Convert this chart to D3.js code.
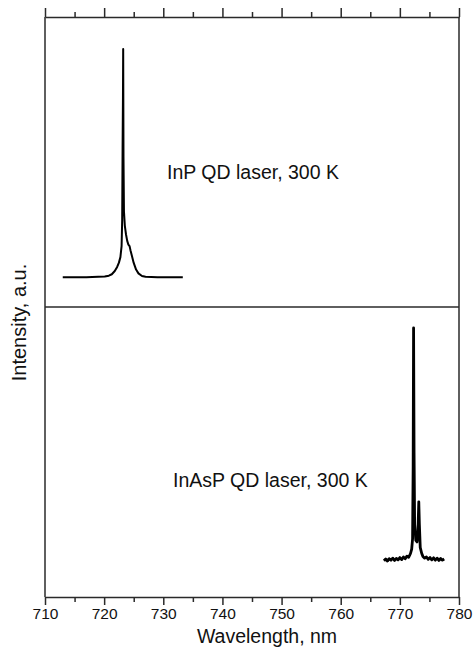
<!DOCTYPE html>
<html><head><meta charset="utf-8">
<script src="https://cdn.jsdelivr.net/npm/d3@7"></script>
<style>body{margin:0;background:#fff}svg{display:block}text{font-family:"Liberation Sans",Arial,sans-serif;fill:#111}</style>
</head><body>
<svg id="c" width="473" height="650"></svg>
<script>
const majorTicks = [710,720,730,740,750,760,770,780];
const minorTicks = [715,725,735,745,755,765,775];
const xLabel = "Wavelength, nm";
const yLabel = "Intensity, a.u.";
const labelInP = "InP QD laser, 300 K";
const labelInAsP = "InAsP QD laser, 300 K";

// InP QD laser spectrum (normalized intensity)
const inpWl = [713.0,715,717,719,720.1,720.8,721.3,721.8,722.2,722.5,722.75,722.95,723.05,723.12,723.18,723.22,723.27,723.35,723.5,723.7,723.9,724.1,724.3,724.45,724.7,725.0,725.4,725.8,726.4,727,729,731,733.3];
const inpI  = [0.103,0.103,0.103,0.104,0.105,0.108,0.113,0.124,0.138,0.153,0.172,0.210,0.300,0.550,0.720,0.890,0.520,0.330,0.280,0.250,0.228,0.215,0.210,0.196,0.176,0.152,0.129,0.116,0.107,0.104,0.103,0.103,0.103];

// InAsP QD laser spectrum
const inaspWl = [767.3,767.6,767.9,768.2,768.5,768.8,769.1,769.4,769.7,770.0,770.3,770.6,770.9,771.2,771.5,771.8,772.0,772.15,772.25,772.32,772.4,772.5,772.7,772.9,773.05,773.2,773.3,773.45,773.7,773.9,774.2,774.5,774.8,775.1,775.4,775.7,776.0,776.3,776.6,776.9,777.2,777.5];
const inaspI  = [0.125,0.131,0.124,0.132,0.127,0.134,0.126,0.133,0.128,0.136,0.129,0.138,0.132,0.141,0.137,0.150,0.165,0.200,0.450,0.928,0.500,0.250,0.195,0.190,0.220,0.328,0.250,0.170,0.150,0.140,0.134,0.138,0.130,0.136,0.128,0.135,0.127,0.134,0.126,0.133,0.127,0.131];

const svg = d3.select("#c");
const L = 45, R = 459, T = 17, M = 307, B = 597;
const x = d3.scaleLinear().domain([710,780]).range([L,R]);
const yTop = d3.scaleLinear().domain([0,1]).range([M,T]);
const yBot = d3.scaleLinear().domain([0,1]).range([B,M]);
const axisColor = "#2a2a2a";

// frame
svg.append("line").attr("x1",L).attr("x2",L).attr("y1",T).attr("y2",B).attr("stroke",axisColor).attr("stroke-width",1.5);
svg.append("line").attr("x1",R).attr("x2",R).attr("y1",T).attr("y2",B).attr("stroke",axisColor).attr("stroke-width",1.5);
svg.append("line").attr("x1",L).attr("x2",R).attr("y1",M).attr("y2",M).attr("stroke",axisColor).attr("stroke-width",1.5);

function styleAxis(g){
  g.selectAll(".domain").attr("stroke",axisColor).attr("stroke-width",1.5);
  g.selectAll(".tick line").attr("stroke",axisColor).attr("stroke-width",1.5);
}
// bottom axis
const gb = svg.append("g").attr("transform",`translate(0,${B})`)
  .call(d3.axisBottom(x).tickValues(majorTicks).tickSize(8).tickSizeOuter(0).tickPadding(3).tickFormat(d3.format("d")));
styleAxis(gb);
gb.selectAll(".tick text").attr("font-size","15.5px").attr("font-family",'"Liberation Sans",Arial,sans-serif').attr("fill","#111");
const gbm = svg.append("g").attr("transform",`translate(0,${B})`)
  .call(d3.axisBottom(x).tickValues(minorTicks).tickSize(5).tickSizeOuter(0).tickFormat(""));
styleAxis(gbm); gbm.select(".domain").remove();
// top axis
const gt = svg.append("g").attr("transform",`translate(0,${T})`)
  .call(d3.axisTop(x).tickValues(majorTicks).tickSize(9).tickSizeOuter(0).tickFormat(""));
styleAxis(gt);
const gtm = svg.append("g").attr("transform",`translate(0,${T})`)
  .call(d3.axisTop(x).tickValues(minorTicks).tickSize(5).tickSizeOuter(0).tickFormat(""));
styleAxis(gtm); gtm.select(".domain").remove();

// lines
const lineTop = d3.line().x((d,i)=>x(inpWl[i])).y((d,i)=>yTop(inpI[i]));
svg.append("path").attr("d",lineTop(inpWl)).attr("fill","none").attr("stroke","#000").attr("stroke-width",2).attr("stroke-linejoin","round");
const lineBot = d3.line().x((d,i)=>x(inaspWl[i])).y((d,i)=>yBot(inaspI[i]));
svg.append("path").attr("d",lineBot(inaspWl)).attr("fill","none").attr("stroke","#000").attr("stroke-width",2.8).attr("stroke-linejoin","round");

// labels
svg.append("text").attr("x",167).attr("y",179).attr("font-size","19.5px").text(labelInP);
svg.append("text").attr("x",173).attr("y",487).attr("font-size","19.5px").text(labelInAsP);
svg.append("text").attr("x",267).attr("y",643).attr("text-anchor","middle").attr("font-size","19.5px").text(xLabel);
svg.append("text").attr("transform","translate(26,322.5) rotate(-90)").attr("text-anchor","middle").attr("font-size","20px").text(yLabel);
</script>
</body></html>
